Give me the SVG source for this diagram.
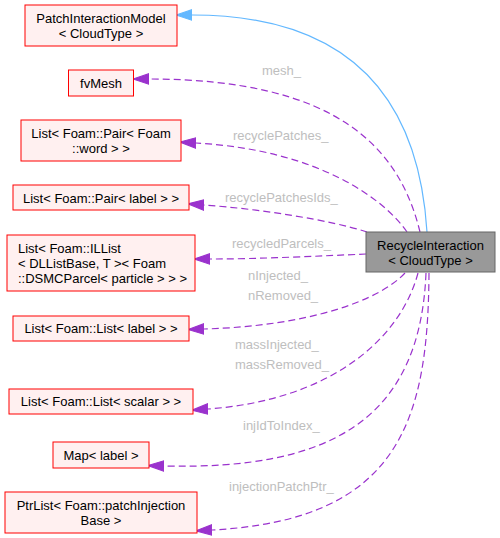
<svg xmlns="http://www.w3.org/2000/svg" width="500" height="538" viewBox="0 0 500 538">
<style>
.node rect{fill:#FFF0F0;stroke:#FF0000;stroke-width:1}
.main rect{fill:#999999;stroke:#666666;stroke-width:1}
text{font-family:"Liberation Sans",Arial,Helvetica,sans-serif;font-size:13px;fill:#000000}
.c{text-anchor:middle}
.lbl{fill:#BEBEBE}
.dep{fill:none;stroke:#9A32CD;stroke-width:1.2;stroke-dasharray:7,4;marker-end:url(#pa)}
.inh{fill:none;stroke:#63B8FF;stroke-width:1.2;marker-end:url(#ba)}
</style>
<defs>
<marker id="pa" markerUnits="userSpaceOnUse" markerWidth="16" markerHeight="12" viewBox="0 0 15 10" refX="0" refY="5" orient="auto"><path d="M0,0 L15,5 L0,10 z" fill="#9A32CD" stroke="#9A32CD"/></marker>
<marker id="ba" markerUnits="userSpaceOnUse" markerWidth="16" markerHeight="12" viewBox="0 0 15 10" refX="0" refY="5" orient="auto"><path d="M0,0 L15,5 L0,10 z" fill="#63B8FF" stroke="#63B8FF"/></marker>
</defs>
<g id="edges">
<path class="inh" d="M427,232 C420,120 370,15 192,15"/>
<path class="dep" d="M420,232 C400,150 340,79 149,79"/>
<path class="dep" d="M407,232 C385,200 320,150 196,143"/>
<path class="dep" d="M367,232 C330,220 260,209 204,205"/>
<path class="dep" d="M366,254 C320,256 260,259 210,259"/>
<path class="dep" d="M405,273 C380,300 310,326 204,329"/>
<path class="dep" d="M418,273 C400,340 330,400 208,409"/>
<path class="dep" d="M426,273 C420,420 330,470 164,466"/>
<path class="dep" d="M429,273 C428,420 400,520 212,530"/>
<text class="lbl" x="262" y="75">mesh_</text>
<text class="lbl" x="233" y="140">recyclePatches_</text>
<text class="lbl" x="225" y="202">recyclePatchesIds_</text>
<text class="lbl" x="232" y="248">recycledParcels_</text>
<text class="lbl" x="248" y="280">nInjected_</text>
<text class="lbl" x="248" y="300">nRemoved_</text>
<text class="lbl" x="235" y="349">massInjected_</text>
<text class="lbl" x="235" y="369">massRemoved_</text>
<text class="lbl" x="243" y="430">injIdToIndex_</text>
<text class="lbl" x="229" y="491">injectionPatchPtr_</text>
</g>
<g id="node1" class="main"><rect x="366" y="232" width="129" height="40"/><text class="c" x="430.5" y="249.5">RecycleInteraction</text><text class="c" x="430.5" y="264.5">&lt; CloudType &gt;</text></g>
<g id="node2" class="node"><rect x="25" y="5" width="152" height="41"/><text class="c" x="101" y="22.5">PatchInteractionModel</text><text class="c" x="101" y="37.5">&lt; CloudType &gt;</text></g>
<g id="node3" class="node"><rect x="68.5" y="70" width="65" height="26"/><text class="c" x="101" y="88">fvMesh</text></g>
<g id="node4" class="node"><rect x="21" y="120" width="160" height="41"/><text class="c" x="101" y="137.5">List&lt; Foam::Pair&lt; Foam</text><text class="c" x="101" y="152.5">::word &gt; &gt;</text></g>
<g id="node5" class="node"><rect x="13" y="185" width="176" height="25"/><text class="c" x="101" y="202.5">List&lt; Foam::Pair&lt; label &gt; &gt;</text></g>
<g id="node6" class="node"><rect x="7" y="235" width="188" height="56"/><text x="18" y="252.5">List&lt; Foam::ILList</text><text x="18" y="267.5">&lt; DLListBase, T &gt;&lt; Foam</text><text x="18" y="282.5">::DSMCParcel&lt; particle &gt; &gt; &gt;</text></g>
<g id="node7" class="node"><rect x="13" y="316" width="176" height="25"/><text class="c" x="101" y="333">List&lt; Foam::List&lt; label &gt; &gt;</text></g>
<g id="node8" class="node"><rect x="9" y="389" width="184" height="25"/><text class="c" x="101" y="406">List&lt; Foam::List&lt; scalar &gt; &gt;</text></g>
<g id="node9" class="node"><rect x="53" y="442" width="96" height="26"/><text class="c" x="101" y="459.5">Map&lt; label &gt;</text></g>
<g id="node10" class="node"><rect x="5" y="492" width="192" height="41"/><text class="c" x="101" y="509.5">PtrList&lt; Foam::patchInjection</text><text class="c" x="101" y="524.5">Base &gt;</text></g>
</svg>
